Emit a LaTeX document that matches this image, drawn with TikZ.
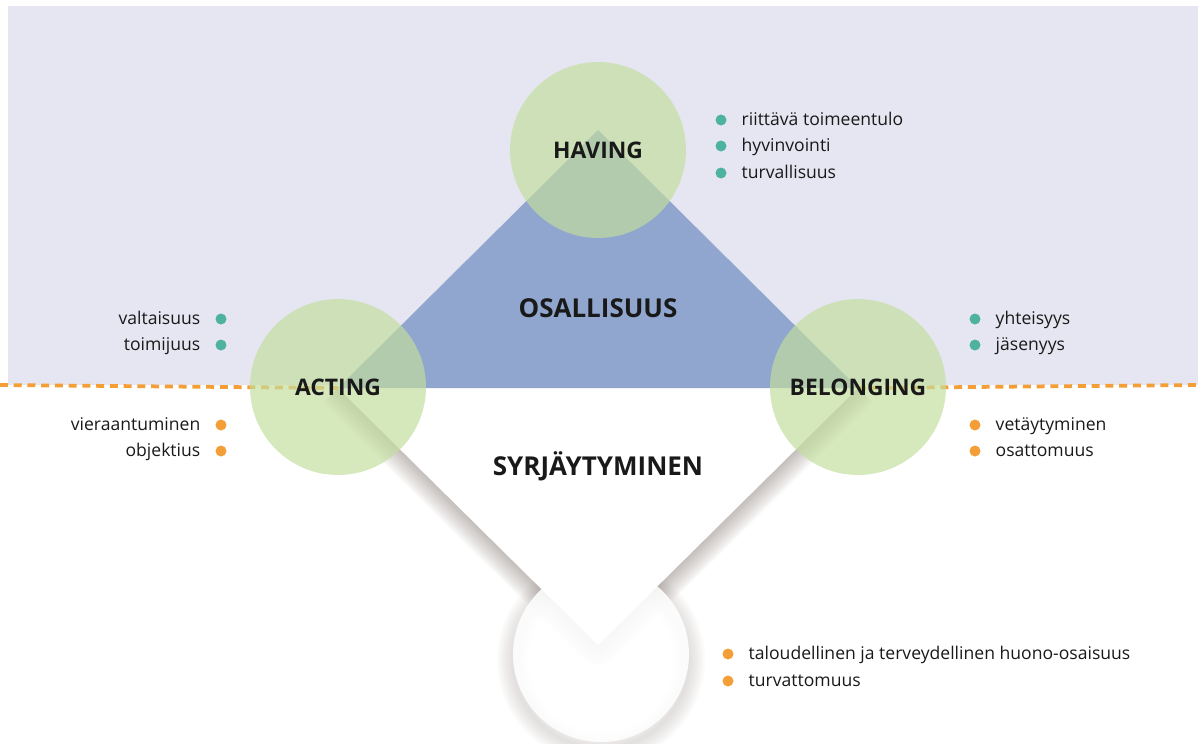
\documentclass[tikz,border=0pt]{standalone}
\usepackage{fontspec}
\setmainfont{Open Sans}
\usetikzlibrary{positioning}
\definecolor{lavender}{RGB}{230,230,242}
\definecolor{triblue}{RGB}{145,166,207}
\definecolor{ringgreen}{RGB}{194,222,157}
\definecolor{dotteal}{RGB}{77,178,160}
\definecolor{dotorange}{RGB}{243,158,54}
\definecolor{ink}{RGB}{25,25,25}
\definecolor{shadowgray}{RGB}{95,80,72}

\begin{document}
\begin{tikzpicture}[x=0.02cm, y=-0.02cm,
    ring/.style={circle, minimum size=3.52cm, inner sep=0pt, fill=ringgreen,
      fill opacity=0.68, text opacity=1, text=ink,
      font=\bfseries\fontsize{13}{15}\selectfont},
    title/.style={text=ink, font=\bfseries\fontsize{14.8}{17}\selectfont},
    tdot/.style={circle, inner sep=0pt, minimum size=0.22cm, fill=dotteal},
    odot/.style={circle, inner sep=0pt, minimum size=0.22cm, fill=dotorange},
    item/.style={inner sep=0pt, text=ink, text height=1.5ex, text depth=0.3ex,
      font=\fontsize{10}{12}\selectfont},
    divider/.style={dotorange, line width=0.075cm, dash pattern=on 0.16cm off 0.115cm},
    shade/.style={shadowgray, opacity=0.03, line join=round}]
  \useasboundingbox (0,0) rectangle (1198,744);
  % corners of the diamond
  \coordinate (top) at (598,130);
  \coordinate (left) at (338,388);
  \coordinate (right) at (858,388);
  \coordinate (bottom) at (598,645);
  \coordinate (lineL) at (0,385);
  \coordinate (lineR) at (1198,385);

  % soft shadow under the lower half
  \begin{scope}[shift={(0,5)}]
    \foreach \w in {4,8,...,32}
      \draw[shade, opacity=0.022, line width=\w*0.02cm] (601,655) circle (88);
    \foreach \w in {3,6,...,42}
      \draw[shade, line width=\w*0.02cm] (left) -- (bottom) -- (right);
  \end{scope}
  \fill[white] (left) -- (bottom) -- (right) -- cycle;

  % upper band and triangle
  \fill[lavender] (8,6) rectangle (1198,385);
  \fill[triblue] (left) -- (top) -- (right) -- cycle;
  \draw[divider] (lineL) -- (left);
  \draw[divider] (right) -- (lineR);

  % circles
  \node[circle, minimum size=3.52cm, fill=white, fill opacity=0.88] (base) at (601,654) {};
  \node[ring] (having) at (598,150) {HAVING};
  \node[ring] (acting) at (338,387) {ACTING};
  \node[ring] (belonging) at (858,387) {BELONGING};
  \node[title] (osal) at (598,308) {OSALLISUUS};
  \node[title] (syrj) at (598,466) {SYRJÄYTYMINEN};

  % lists
  \node[tdot] (h1) at (721,120) {};
  \node[tdot] (h2) at (721,146) {};
  \node[tdot] (h3) at (721,173) {};
  \node[item, right=0.29cm of h1] {riittävä toimeentulo};
  \node[item, right=0.29cm of h2] {hyvinvointi};
  \node[item, right=0.29cm of h3] {turvallisuus};

  \node[tdot] (a1) at (221,319) {};
  \node[tdot] (a2) at (221,345) {};
  \node[odot] (a3) at (221,425) {};
  \node[odot] (a4) at (221,451) {};
  \node[item, left=0.29cm of a1] {valtaisuus};
  \node[item, left=0.29cm of a2] {toimijuus};
  \node[item, left=0.29cm of a3] {vieraantuminen};
  \node[item, left=0.29cm of a4] {objektius};

  \node[tdot] (b1) at (975,319) {};
  \node[tdot] (b2) at (975,345) {};
  \node[odot] (b3) at (975,425) {};
  \node[odot] (b4) at (975,451) {};
  \node[item, right=0.29cm of b1] {yhteisyys};
  \node[item, right=0.29cm of b2] {jäsenyys};
  \node[item, right=0.29cm of b3] {vetäytyminen};
  \node[item, right=0.29cm of b4] {osattomuus};

  \node[odot] (s1) at (728,654) {};
  \node[odot] (s2) at (728,681) {};
  \node[item, right=0.29cm of s1] {taloudellinen ja terveydellinen huono-osaisuus};
  \node[item, right=0.29cm of s2] {turvattomuus};
\end{tikzpicture}
\end{document}
